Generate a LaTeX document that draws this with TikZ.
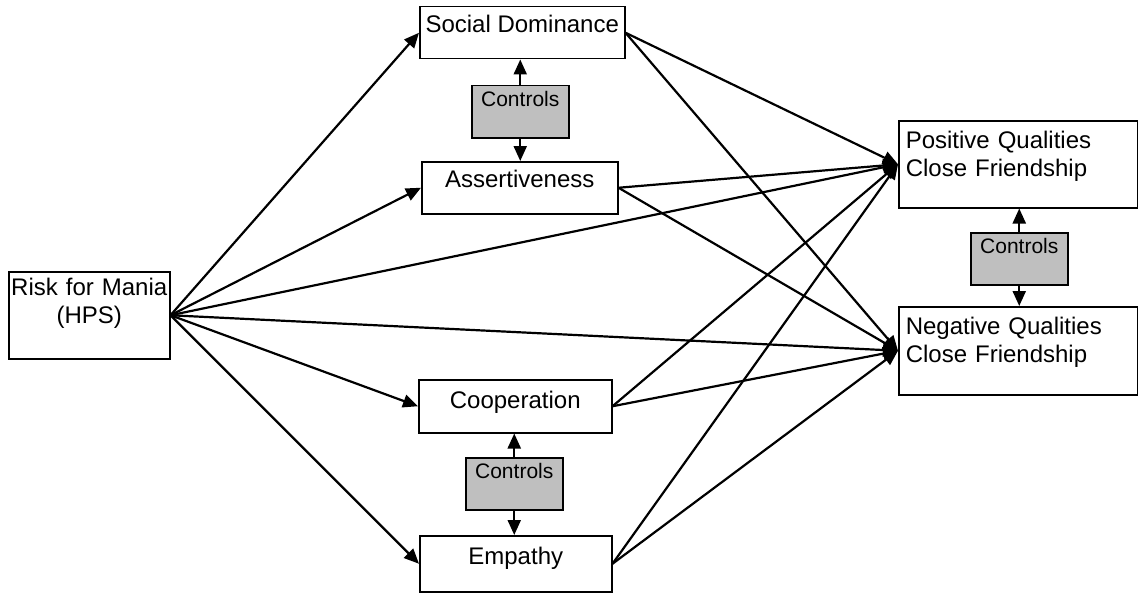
\documentclass[tikz,border=0pt]{standalone}
\usepackage{fontspec}
\setmainfont{Liberation Sans}
\usetikzlibrary{arrows.meta}

\begin{document}
\begin{tikzpicture}[x = 1pt, y = -1pt,
	box/.style = {draw, line width = 1.5pt, anchor = north west, inner sep = 0pt, font = \fontsize{24}{27.3}\selectfont},
	ctrl/.style = {box, fill = gray!50, font = \fontsize{21}{24}\selectfont, text height = 21pt, text depth = 31pt, minimum width = 97pt},
	arr/.style = {line width = 2.2pt, -{Triangle[length = 15pt, width = 13pt]}}]
	 \useasboundingbox (0, 0) rectangle (1138, 594);

	 % boxes
	 \node[box, text width = 161pt, align = center, text height = 24pt, text depth = 63pt] (risk) at (8, 271) {Risk for Mania\\(HPS)};
	 \node[box, minimum width = 205pt, text height = 26pt, text depth = 26pt] (sdom) at (419, 6) {Social Dominance};
	 \node[ctrl] (ctrlA) at (471, 85) {Controls};
	 \node[box, minimum width = 196pt, text height = 26pt, text depth = 26pt] (assert) at (421, 161) {Assertiveness};
	 \node[box, minimum width = 193pt, text height = 29pt, text depth = 24pt] (coop) at (418, 379) {Cooperation};
	 \node[ctrl] (ctrlB) at (465, 457) {Controls};
	 \node[box, minimum width = 192pt, text height = 29pt, text depth = 27pt] (emp) at (419, 535) {Empathy};
	 \node[box, inner xsep = 7pt, text width = 225pt, align = left, text height = 28pt, text depth = 59pt] (pos) at (898, 120) {Positive Qualities\\Close Friendship};
	 \node[ctrl] (ctrlC) at (970, 232) {Controls};
	 \node[box, inner xsep = 7pt, text width = 225pt, align = left, text height = 28pt, text depth = 60pt] (neg) at (898, 306) {Negative Qualities\\Close Friendship};

	 % paths
	 \foreach \m in {sdom, assert, coop, emp, pos, neg}
	 \draw[arr] (risk.east) -- (\m.west);
	 \foreach \m in {sdom, assert, coop, emp}
	 {
	 \draw[arr] (\m.east) -- (pos.west);
	 \draw[arr] (\m.east) -- (neg.west);
	 }

	 % controls
	 \draw[arr] (ctrlA.north) -- (ctrlA.north |- sdom.south);
	 \draw[arr] (ctrlA.south) -- (ctrlA.south |- assert.north);
	 \draw[arr] (ctrlB.north) -- (ctrlB.north |- coop.south);
	 \draw[arr] (ctrlB.south) -- (ctrlB.south |- emp.north);
	 \draw[arr] (ctrlC.north) -- (ctrlC.north |- pos.south);
	 \draw[arr] (ctrlC.south) -- (ctrlC.south |- neg.north);
\end{tikzpicture}
\end{document}
